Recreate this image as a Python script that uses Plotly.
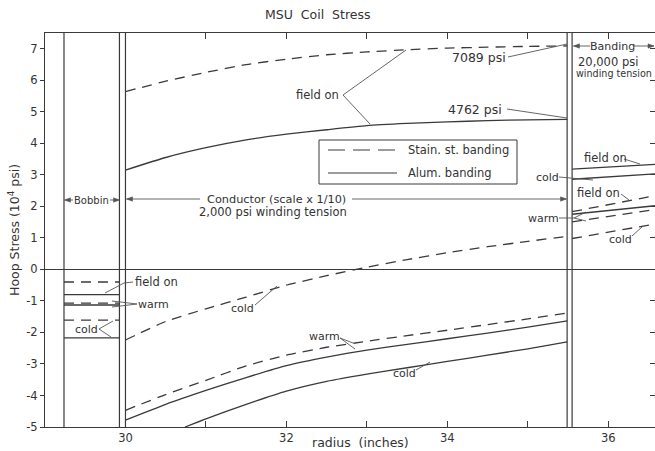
import plotly.graph_objects as go

# ---------------- data ----------------
# radii (inches)
bobbin_r = [29.236, 29.925]
cond_r = [30.0, 30.5, 31.0, 31.5, 32.0, 32.5, 33.0, 33.5, 34.0, 34.5, 35.0, 35.49]
cond_r_al_cold = [30.74, 31.0, 31.5, 32.0, 32.5, 33.0, 33.5, 34.0, 34.5, 35.0, 35.49]
band_r = [35.55, 36.58]
boundary_r = [29.236, 29.925, 30.0, 35.488, 35.55]

# hoop stress (10^4 psi) - stainless steel banding (dashed)
ss_on_bob = [-0.40, -0.40]
ss_warm_bob = [-1.07, -1.07]
ss_cold_bob = [-1.61, -1.61]
ss_on_cond = [5.64, 5.97, 6.25, 6.50, 6.67, 6.81, 6.90, 6.97, 7.02, 7.05, 7.075, 7.089]
ss_warm_cond = [-4.47, -3.97, -3.52, -3.06, -2.72, -2.47, -2.28, -2.10, -1.93, -1.75, -1.57, -1.38]
ss_cold_cond = [-2.24, -1.65, -1.25, -0.88, -0.50, -0.20, 0.07, 0.31, 0.53, 0.72, 0.89, 1.05]
ss_on_band = [1.83, 2.34]
ss_warm_band = [1.51, 1.90]
ss_cold_band = [0.98, 1.44]

# hoop stress (10^4 psi) - aluminum banding (solid)
al_on_bob = [-0.80, -0.80]
al_warm_bob = [-1.13, -1.13]
al_cold_bob = [-2.17, -2.17]
al_on_cond = [3.15, 3.55, 3.86, 4.11, 4.29, 4.43, 4.56, 4.63, 4.68, 4.72, 4.745, 4.762]
al_warm_cond = [-4.78, -4.28, -3.84, -3.43, -3.05, -2.78, -2.56, -2.38, -2.20, -2.02, -1.83, -1.63]
al_cold_cond = [-5.0, -4.74, -4.28, -3.86, -3.55, -3.32, -3.12, -2.92, -2.72, -2.52, -2.30]
al_on_band = [3.18, 3.33]
al_warm_band = [1.75, 2.02]
al_cold_band = [2.86, 3.03]

x_ticks = [30, 32, 34, 36]
x_ticktext = ["30", "32", "34", "36"]
x_minor_ticks = [31, 33, 35]
y_ticks = [-5, -4, -3, -2, -1, 0, 1, 2, 3, 4, 5, 6, 7]
y_ticktext = ["-5", "-4", "-3", "-2", "-1", "0", "1", "2", "3", "4", "5", "6", "7"]

# ---------------- styling ----------------
LINE = "#3a3a3a"
LEAD = "#555555"
TXT = "#333333"
FONT = "DejaVu Sans"
DASH = "10px,7px"
XR = [29.0, 36.58]
YR = [-5.0, 7.5]
ML, MT, W, H = 45, 33, 655, 451
PW, PH = W - ML, 394

def dx(px):
    return XR[0] + (px - ML) / PW * (XR[1] - XR[0])

def dy(py):
    return YR[1] - (py - MT) / PH * (YR[1] - YR[0])

fig = go.Figure()

def add_series(r, v, dashed):
    fig.add_trace(go.Scatter(
        x=r, y=v, mode="lines", showlegend=False, hoverinfo="skip",
        line=dict(color=LINE, width=1.3, dash=DASH if dashed else "solid",
                  shape="spline", smoothing=0.5)))

for v in (ss_on_bob, ss_warm_bob, ss_cold_bob):
    add_series(bobbin_r, v, True)
for v in (al_on_bob, al_warm_bob, al_cold_bob):
    add_series(bobbin_r, v, False)
for v in (ss_on_cond, ss_warm_cond, ss_cold_cond):
    add_series(cond_r, v, True)
add_series(cond_r, al_on_cond, False)
add_series(cond_r, al_warm_cond, False)
add_series(cond_r_al_cold, al_cold_cond, False)
for v in (ss_on_band, ss_warm_band, ss_cold_band):
    add_series(band_r, v, True)
for v in (al_on_band, al_warm_band, al_cold_band):
    add_series(band_r, v, False)

# invisible trace for the right-hand mirror tick axis
fig.add_trace(go.Scatter(x=[29.5], y=[0], yaxis="y2", mode="markers",
                         marker=dict(opacity=0), showlegend=False, hoverinfo="skip"))

shapes = []
# region boundaries
for r in boundary_r:
    shapes.append(dict(type="line", xref="x", yref="paper", x0=r, x1=r, y0=0, y1=1,
                       line=dict(color=LINE, width=1.2)))

# legend box (drawn by hand to match the original)
shapes.append(dict(type="rect", xref="x", yref="y", x0=dx(319), x1=dx(517), y0=dy(140), y1=dy(184),
                   line=dict(color=LINE, width=1), fillcolor="white"))
shapes.append(dict(type="line", xref="x", yref="y", x0=dx(328), x1=dx(397), y0=dy(150), y1=dy(150),
                   line=dict(color=LINE, width=1.2, dash="17px,8px")))
shapes.append(dict(type="line", xref="x", yref="y", x0=dx(328), x1=dx(397), y0=dy(173), y1=dy(173),
                   line=dict(color=LINE, width=1.2)))

# leader lines (pixel positions of the hand-drawn callouts)
leaders = [
    [(343, 95), (406, 50)], [(343, 95), (370, 124)],
    [(508, 57), (567, 44)],
    [(507, 109), (567, 118)],
    [(133, 282), (124, 283), (105, 293)],
    [(137, 304), (112, 301)], [(137, 304), (112, 307)],
    [(99, 329), (113, 321)], [(99, 329), (111, 337)],
    [(255, 305), (277, 286)],
    [(340, 338), (353, 343)], [(340, 338), (355, 349)],
    [(416, 370), (430, 362)],
    [(624, 159), (640, 164)],
    [(559, 177), (593, 180)],
    [(621, 194), (629, 200)],
    [(559, 218), (574, 218), (586, 212)], [(574, 218), (586, 221)],
    [(632, 236), (642, 227)],
]
for pts in leaders:
    for (a, b) in zip(pts[:-1], pts[1:]):
        shapes.append(dict(type="line", xref="x", yref="y", x0=dx(a[0]), y0=dy(a[1]),
                           x1=dx(b[0]), y1=dy(b[1]), line=dict(color=LEAD, width=0.9)))

# dimension arrows (tail, head) drawn as line + small filled head
arrows = [
    ((73, 200), (64.5, 200)), ((110, 200), (119.5, 200)),
    ((200, 199), (126.5, 199)), ((352, 199), (566.5, 199)),
    ((590, 46), (573.5, 46)), ((634, 46), (654, 46)),
]
for tail, head in arrows:
    shapes.append(dict(type="line", xref="x", yref="y", x0=dx(tail[0]), y0=dy(tail[1]),
                       x1=dx(head[0]), y1=dy(head[1]), line=dict(color=LEAD, width=0.9)))
    s = 1 if head[0] > tail[0] else -1
    hx, hy = head
    path = "M {},{} L {},{} L {},{} Z".format(
        dx(hx), dy(hy), dx(hx - s * 6), dy(hy - 2.2), dx(hx - s * 6), dy(hy + 2.2))
    shapes.append(dict(type="path", xref="x", yref="y", path=path,
                       fillcolor=LEAD, line=dict(color=LEAD, width=0.5)))

annotations = []

def label(text, px, py, size=11, anchor="center"):
    annotations.append(dict(text=text, x=dx(px), y=dy(py), xref="x", yref="y",
                            showarrow=False, xanchor=anchor, yanchor="middle",
                            font=dict(family=FONT, size=size, color=TXT)))

label("Bobbin", 91, 200, 10)
label("Conductor (scale x 1/10)", 276, 199, 11.3)
label("2,000 psi winding tension", 273, 212, 11.5)
label("field on", 317, 95, 11.5)
label("7089 psi", 479, 57, 12.5)
label("4762 psi", 475, 109, 12.5)
label("Stain. st. banding", 406, 150, 11.5, "left")
label("Alum. banding", 406, 173, 11.5, "left")
label("field on", 156, 282, 11.5)
label("warm", 153, 304, 11)
label("cold", 86, 329, 11)
label("cold", 242, 308, 11)
label("warm", 324, 336, 11)
label("cold", 404, 373, 11)
label("Banding", 612, 46, 11)
label("20,000 psi", 608, 62, 11.5)
label("winding tension", 574, 73, 9.6, "left")
label("field on", 605, 158, 11.5)
label("cold", 547, 177, 11)
label("field on", 598, 193, 11.5)
label("warm", 543, 218, 11)
label("cold", 620, 239, 11)

# titles
def paper_x(px):
    return (px - ML) / PW

def paper_y(py):
    return (MT + PH - py) / PH

annotations.append(dict(text="MSU\u00a0\u00a0Coil\u00a0\u00a0Stress", x=paper_x(318), y=paper_y(15),
                        xref="paper", yref="paper", showarrow=False, xanchor="center", yanchor="middle",
                        font=dict(family=FONT, size=12.5, color=TXT)))
annotations.append(dict(text="radius\u00a0\u00a0(inches)", x=paper_x(360), y=paper_y(443),
                        xref="paper", yref="paper", showarrow=False, xanchor="center", yanchor="middle",
                        font=dict(family=FONT, size=12.5, color=TXT)))
annotations.append(dict(text="Hoop Stress (10<sup>4</sup> psi)", x=paper_x(14), y=paper_y(230),
                        xref="paper", yref="paper", showarrow=False, xanchor="center", yanchor="middle",
                        textangle=-90, font=dict(family=FONT, size=12.5, color=TXT)))

fig.update_layout(
    width=W, height=H,
    margin=dict(l=ML, r=0, t=MT, b=H - MT - PH, pad=0),
    paper_bgcolor="white", plot_bgcolor="white",
    font=dict(family=FONT, size=11, color=TXT),
    showlegend=False,
    xaxis=dict(range=XR, tickvals=x_ticks, ticktext=x_ticktext, ticks="inside", ticklen=6,
               tickcolor=LINE, showline=True, linecolor=LINE, linewidth=1, mirror="ticks",
               minor=dict(tickvals=x_minor_ticks, ticks="inside", ticklen=6, tickcolor=LINE,
                          showgrid=False),
               showgrid=False, zeroline=False, tickfont=dict(family=FONT, size=11.5, color=TXT)),
    yaxis=dict(range=YR, tickvals=y_ticks, ticktext=y_ticktext, ticks="outside", ticklen=4,
               tickcolor=LINE, showline=True, linecolor=LINE, linewidth=1, mirror=False,
               showgrid=False, zeroline=True, zerolinecolor=LINE, zerolinewidth=1,
               tickfont=dict(family=FONT, size=11.5, color=TXT)),
    yaxis2=dict(range=YR, overlaying="y", side="right", tickvals=y_ticks, ticks="inside",
                ticklen=5, tickcolor=LINE, showticklabels=False, showline=False,
                showgrid=False, zeroline=False),
    shapes=shapes,
    annotations=annotations,
)

fig.write_html("out.html", config={"displayModeBar": False},
               post_script="document.body.style.margin='0px';")
